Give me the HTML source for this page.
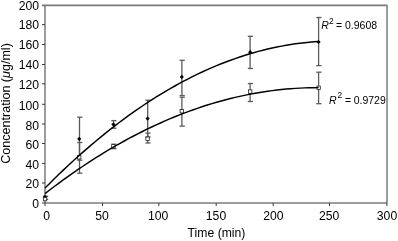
<!DOCTYPE html>
<html><head><meta charset="utf-8"><style>
html,body{margin:0;padding:0;background:#fff;}
svg{display:block;will-change:transform;}
.t{font-family:"Liberation Sans",sans-serif;font-size:12.2px;fill:#000;}
.r{font-family:"Liberation Sans",sans-serif;font-size:10.5px;fill:#000;}
</style></head><body>
<svg width="398" height="241" viewBox="0 0 398 241">
<rect width="398" height="241" fill="#fff"/>
<g>
<rect width="398" height="241" fill="#fff"/>
<path d="M387,5.4 V203 H45 V5.4" fill="none" stroke="#3a3a3a" stroke-width="1"/>
<line x1="42" y1="5.4" x2="387.5" y2="5.4" stroke="#7a7a7a" stroke-width="1.6"/>
<line x1="42" y1="203.00" x2="45" y2="203.00" stroke="#3a3a3a" stroke-width="1"/>
<text x="39" y="208.30" text-anchor="end" class="t">0</text>
<line x1="42" y1="183.00" x2="45" y2="183.00" stroke="#3a3a3a" stroke-width="1"/>
<text x="39" y="187.50" text-anchor="end" class="t">20</text>
<line x1="42" y1="163.40" x2="45" y2="163.40" stroke="#3a3a3a" stroke-width="1"/>
<text x="39" y="168.70" text-anchor="end" class="t">40</text>
<line x1="42" y1="143.50" x2="45" y2="143.50" stroke="#3a3a3a" stroke-width="1"/>
<text x="39" y="148.90" text-anchor="end" class="t">60</text>
<line x1="42" y1="124.00" x2="45" y2="124.00" stroke="#3a3a3a" stroke-width="1"/>
<text x="39" y="130.10" text-anchor="end" class="t">80</text>
<line x1="42" y1="104.30" x2="45" y2="104.30" stroke="#3a3a3a" stroke-width="1"/>
<text x="39" y="110.30" text-anchor="end" class="t">100</text>
<line x1="42" y1="83.80" x2="45" y2="83.80" stroke="#3a3a3a" stroke-width="1"/>
<text x="39" y="88.50" text-anchor="end" class="t">120</text>
<line x1="42" y1="64.50" x2="45" y2="64.50" stroke="#3a3a3a" stroke-width="1"/>
<text x="39" y="68.70" text-anchor="end" class="t">140</text>
<line x1="42" y1="44.50" x2="45" y2="44.50" stroke="#3a3a3a" stroke-width="1"/>
<text x="39" y="48.90" text-anchor="end" class="t">160</text>
<line x1="42" y1="24.60" x2="45" y2="24.60" stroke="#3a3a3a" stroke-width="1"/>
<text x="39" y="29.10" text-anchor="end" class="t">180</text>
<text x="39" y="10.30" text-anchor="end" class="t">200</text>
<line x1="45.00" y1="203" x2="45.00" y2="206" stroke="#3a3a3a" stroke-width="1"/>
<text x="46.60" y="220.3" text-anchor="middle" class="t">0</text>
<line x1="102.50" y1="203" x2="102.50" y2="206" stroke="#3a3a3a" stroke-width="1"/>
<text x="102.00" y="220.3" text-anchor="middle" class="t">50</text>
<line x1="158.80" y1="203" x2="158.80" y2="206" stroke="#3a3a3a" stroke-width="1"/>
<text x="158.20" y="220.3" text-anchor="middle" class="t">100</text>
<line x1="216.20" y1="203" x2="216.20" y2="206" stroke="#3a3a3a" stroke-width="1"/>
<text x="216.00" y="220.3" text-anchor="middle" class="t">150</text>
<line x1="273.20" y1="203" x2="273.20" y2="206" stroke="#3a3a3a" stroke-width="1"/>
<text x="273.30" y="220.3" text-anchor="middle" class="t">200</text>
<line x1="329.50" y1="203" x2="329.50" y2="206" stroke="#3a3a3a" stroke-width="1"/>
<text x="329.20" y="220.3" text-anchor="middle" class="t">250</text>
<line x1="386.90" y1="203" x2="386.90" y2="206" stroke="#3a3a3a" stroke-width="1"/>
<text x="387.00" y="220.3" text-anchor="middle" class="t">300</text>
<line x1="79.50" y1="117.2" x2="79.50" y2="160.2" stroke="#5a5a5a" stroke-width="1.3"/><line x1="77.20" y1="117.2" x2="82.40" y2="117.2" stroke="#5a5a5a" stroke-width="1.3"/><line x1="77.20" y1="160.2" x2="82.40" y2="160.2" stroke="#5a5a5a" stroke-width="1.3"/><line x1="79.50" y1="142.5" x2="79.50" y2="173.2" stroke="#5a5a5a" stroke-width="1.3"/><line x1="77.20" y1="142.5" x2="82.40" y2="142.5" stroke="#5a5a5a" stroke-width="1.3"/><line x1="77.20" y1="173.2" x2="82.40" y2="173.2" stroke="#5a5a5a" stroke-width="1.3"/><line x1="113.60" y1="120.6" x2="113.60" y2="128.2" stroke="#5a5a5a" stroke-width="1.3"/><line x1="111.30" y1="120.6" x2="116.50" y2="120.6" stroke="#5a5a5a" stroke-width="1.3"/><line x1="111.30" y1="128.2" x2="116.50" y2="128.2" stroke="#5a5a5a" stroke-width="1.3"/><line x1="113.60" y1="144.2" x2="113.60" y2="148.6" stroke="#5a5a5a" stroke-width="1.3"/><line x1="111.30" y1="144.2" x2="116.50" y2="144.2" stroke="#5a5a5a" stroke-width="1.3"/><line x1="111.30" y1="148.6" x2="116.50" y2="148.6" stroke="#5a5a5a" stroke-width="1.3"/><line x1="147.70" y1="100.2" x2="147.70" y2="137" stroke="#5a5a5a" stroke-width="1.3"/><line x1="145.40" y1="100.2" x2="150.60" y2="100.2" stroke="#5a5a5a" stroke-width="1.3"/><line x1="145.40" y1="137" x2="150.60" y2="137" stroke="#5a5a5a" stroke-width="1.3"/><line x1="147.70" y1="133.1" x2="147.70" y2="143" stroke="#5a5a5a" stroke-width="1.3"/><line x1="145.40" y1="133.1" x2="150.60" y2="133.1" stroke="#5a5a5a" stroke-width="1.3"/><line x1="145.40" y1="143" x2="150.60" y2="143" stroke="#5a5a5a" stroke-width="1.3"/><line x1="181.90" y1="60.3" x2="181.90" y2="95.6" stroke="#5a5a5a" stroke-width="1.3"/><line x1="179.60" y1="60.3" x2="184.80" y2="60.3" stroke="#5a5a5a" stroke-width="1.3"/><line x1="179.60" y1="95.6" x2="184.80" y2="95.6" stroke="#5a5a5a" stroke-width="1.3"/><line x1="181.90" y1="97.2" x2="181.90" y2="126.1" stroke="#5a5a5a" stroke-width="1.3"/><line x1="179.60" y1="97.2" x2="184.80" y2="97.2" stroke="#5a5a5a" stroke-width="1.3"/><line x1="179.60" y1="126.1" x2="184.80" y2="126.1" stroke="#5a5a5a" stroke-width="1.3"/><line x1="250.10" y1="36.3" x2="250.10" y2="68.5" stroke="#5a5a5a" stroke-width="1.3"/><line x1="247.80" y1="36.3" x2="253.00" y2="36.3" stroke="#5a5a5a" stroke-width="1.3"/><line x1="247.80" y1="68.5" x2="253.00" y2="68.5" stroke="#5a5a5a" stroke-width="1.3"/><line x1="250.10" y1="83.5" x2="250.10" y2="101.5" stroke="#5a5a5a" stroke-width="1.3"/><line x1="247.80" y1="83.5" x2="253.00" y2="83.5" stroke="#5a5a5a" stroke-width="1.3"/><line x1="247.80" y1="101.5" x2="253.00" y2="101.5" stroke="#5a5a5a" stroke-width="1.3"/><line x1="318.60" y1="17.5" x2="318.60" y2="65.6" stroke="#5a5a5a" stroke-width="1.3"/><line x1="316.30" y1="17.5" x2="321.50" y2="17.5" stroke="#5a5a5a" stroke-width="1.3"/><line x1="316.30" y1="65.6" x2="321.50" y2="65.6" stroke="#5a5a5a" stroke-width="1.3"/><line x1="318.60" y1="72.2" x2="318.60" y2="103.7" stroke="#5a5a5a" stroke-width="1.3"/><line x1="316.30" y1="72.2" x2="321.50" y2="72.2" stroke="#5a5a5a" stroke-width="1.3"/><line x1="316.30" y1="103.7" x2="321.50" y2="103.7" stroke="#5a5a5a" stroke-width="1.3"/><line x1="45.30" y1="196.3" x2="45.30" y2="199.3" stroke="#5a5a5a" stroke-width="1.3"/><line x1="43.00" y1="196.3" x2="48.20" y2="196.3" stroke="#5a5a5a" stroke-width="1.3"/><line x1="43.00" y1="199.3" x2="48.20" y2="199.3" stroke="#5a5a5a" stroke-width="1.3"/>
<path d="M45.00,194.80 L47.10,196.90 L45.00,199.00 L42.90,196.90 Z" fill="#000"/><path d="M79.20,136.80 L81.30,138.90 L79.20,141.00 L77.10,138.90 Z" fill="#000"/><path d="M113.40,122.30 L115.50,124.40 L113.40,126.50 L111.30,124.40 Z" fill="#000"/><path d="M147.60,116.50 L149.70,118.60 L147.60,120.70 L145.50,118.60 Z" fill="#000"/><path d="M181.80,74.80 L183.90,76.90 L181.80,79.00 L179.70,76.90 Z" fill="#000"/><path d="M250.20,50.10 L252.30,52.20 L250.20,54.30 L248.10,52.20 Z" fill="#000"/><path d="M318.60,39.90 L320.70,42.00 L318.60,44.10 L316.50,42.00 Z" fill="#000"/><rect x="43.30" y="197.40" width="3.40" height="3.40" fill="#fff" stroke="#222" stroke-width="0.8"/><rect x="77.50" y="155.60" width="3.40" height="3.40" fill="#fff" stroke="#222" stroke-width="0.8"/><rect x="111.70" y="144.60" width="3.40" height="3.40" fill="#fff" stroke="#222" stroke-width="0.8"/><rect x="145.90" y="137.00" width="3.40" height="3.40" fill="#fff" stroke="#222" stroke-width="0.8"/><rect x="180.10" y="109.50" width="3.40" height="3.40" fill="#fff" stroke="#222" stroke-width="0.8"/><rect x="248.50" y="89.90" width="3.40" height="3.40" fill="#fff" stroke="#222" stroke-width="0.8"/><rect x="316.90" y="86.10" width="3.40" height="3.40" fill="#fff" stroke="#222" stroke-width="0.8"/>
<path d="M45.00,188.05 L49.64,183.39 L54.27,178.81 L58.91,174.31 L63.55,169.88 L68.19,165.52 L72.82,161.24 L77.46,157.03 L82.10,152.90 L86.74,148.84 L91.37,144.86 L96.01,140.95 L100.65,137.12 L105.28,133.37 L109.92,129.68 L114.56,126.08 L119.20,122.54 L123.83,119.09 L128.47,115.70 L133.11,112.40 L137.75,109.16 L142.38,106.01 L147.02,102.92 L151.66,99.91 L156.29,96.98 L160.93,94.12 L165.57,91.34 L170.21,88.63 L174.84,86.00 L179.48,83.44 L184.12,80.96 L188.76,78.55 L193.39,76.21 L198.03,73.96 L202.67,71.77 L207.31,69.66 L211.94,67.63 L216.58,65.67 L221.22,63.78 L225.85,61.98 L230.49,60.24 L235.13,58.58 L239.77,57.00 L244.40,55.49 L249.04,54.05 L253.68,52.69 L258.32,51.41 L262.95,50.20 L267.59,49.06 L272.23,48.00 L276.86,47.02 L281.50,46.11 L286.14,45.27 L290.78,44.51 L295.41,43.82 L300.05,43.21 L304.69,42.68 L309.33,42.22 L313.96,41.83 L318.60,41.52" fill="none" stroke="#000" stroke-width="1.45"/>
<path d="M45.00,193.62 L49.64,190.05 L54.27,186.54 L58.91,183.09 L63.55,179.70 L68.19,176.38 L72.82,173.11 L77.46,169.91 L82.10,166.77 L86.74,163.69 L91.37,160.67 L96.01,157.71 L100.65,154.81 L105.28,151.98 L109.92,149.20 L114.56,146.49 L119.20,143.84 L123.83,141.25 L128.47,138.72 L133.11,136.25 L137.75,133.84 L142.38,131.49 L147.02,129.21 L151.66,126.98 L156.29,124.82 L160.93,122.72 L165.57,120.68 L170.21,118.70 L174.84,116.78 L179.48,114.92 L184.12,113.13 L188.76,111.39 L193.39,109.72 L198.03,108.10 L202.67,106.55 L207.31,105.06 L211.94,103.63 L216.58,102.26 L221.22,100.96 L225.85,99.71 L230.49,98.53 L235.13,97.40 L239.77,96.34 L244.40,95.34 L249.04,94.40 L253.68,93.52 L258.32,92.70 L262.95,91.95 L267.59,91.25 L272.23,90.62 L276.86,90.04 L281.50,89.53 L286.14,89.08 L290.78,88.69 L295.41,88.36 L300.05,88.10 L304.69,87.89 L309.33,87.74 L313.96,87.66 L318.60,87.64" fill="none" stroke="#000" stroke-width="1.45"/>
<text x="321.2" y="29.4" class="r" font-style="italic">R</text><text x="329.1" y="23.7" class="r" style="font-size:8.4px">2</text><text x="336.0" y="29.4" class="r">=</text><text x="345.0" y="29.4" class="r">0.9608</text>
<text x="329.1" y="103.6" class="r" font-style="italic">R</text><text x="337.6" y="97.9" class="r" style="font-size:8.4px">2</text><text x="345.0" y="103.6" class="r">=</text><text x="353.7" y="103.6" class="r">0.9729</text>
<text x="216.5" y="236.7" text-anchor="middle" class="t">Time (min)</text>
<text transform="translate(10.0,103.45) rotate(-90)" text-anchor="middle" class="t" style="font-size:12.55px">Concentration (<tspan font-style="italic">μ</tspan>g/ml)</text>
</g>
</svg>
</body></html>
